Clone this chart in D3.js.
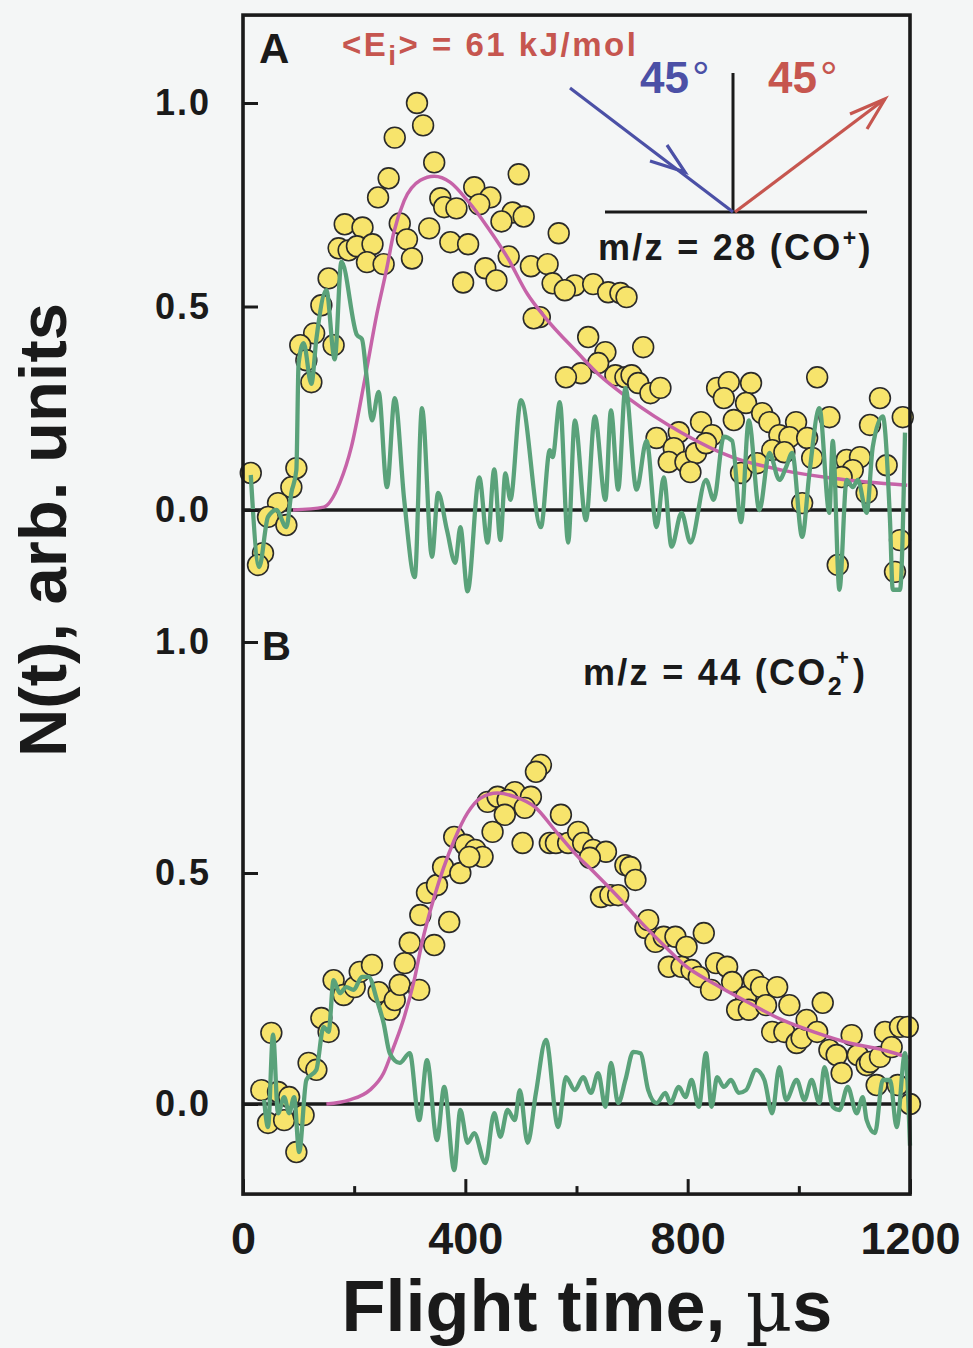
<!DOCTYPE html>
<html>
<head>
<meta charset="utf-8">
<script src="https://cdn.jsdelivr.net/npm/d3@7"></script>
<style>
  html, body { margin: 0; padding: 0; background: #f4f6f6; }
  svg { display: block; }
  text { font-family: "Liberation Sans", Arial, sans-serif; font-weight: bold; }
</style>
</head>
<body>
<svg id="chart" width="973" height="1348"></svg>
<script>
// ---------------- DATA ----------------
const xMajorTicks = [0, 400, 800, 1200];
const xMinorTicks = [200, 600, 1000];
const yTicks = [0, 0.5, 1.0];

// Panel A  (m/z = 28, CO+)
const dotsA_t = [313,324,273,344,262,496,243,416,445,355,362,384,425,183,215,282,335,485,505,465,568,172,190,205,233,295,373,405,223,253,304,478,436,456,396,154,518,548,557,597,630,657,679,579,141,128,103,114,123,163,14,96,87,63,45,78,36,27,534,523,621,652,639,608,581,670,688,690,720,699,711,733,751,744,784,824,844,775,766,796,815,805,833,853,874,914,865,905,883,934,947,995,1055,1033,965,983,1015,952,974,1024,896,925,1006,1086,1110,1097,1077,1122,1158,1146,1128,1187,1070,1182,1173];
const dotsA_v = [1.0,0.945,0.915,0.854,0.815,0.825,0.768,0.793,0.768,0.766,0.744,0.741,0.751,0.702,0.694,0.704,0.692,0.731,0.721,0.709,0.68,0.643,0.638,0.648,0.653,0.665,0.658,0.653,0.609,0.604,0.618,0.623,0.594,0.564,0.559,0.569,0.599,0.604,0.557,0.552,0.555,0.535,0.533,0.54,0.503,0.434,0.405,0.368,0.314,0.405,0.091,0.103,0.056,0.017,-0.017,-0.037,-0.106,-0.135,0.474,0.471,0.425,0.388,0.361,0.336,0.326,0.331,0.326,0.523,0.40,0.331,0.312,0.287,0.30,0.177,0.191,0.216,0.184,0.152,0.118,0.118,0.14,0.093,0.164,0.30,0.314,0.312,0.275,0.263,0.221,0.238,0.216,0.216,0.228,0.326,0.184,0.179,0.177,0.147,0.142,0.128,0.091,0.115,0.017,0.123,0.13,0.098,0.081,0.042,0.11,0.275,0.209,0.228,-0.135,-0.074,-0.152];

const greenA_t = [14,29,45,60,78,87,96,100,109,123,132,150,165,177,205,214,223,232,244,259,273,290,309,322,340,351,367,382,391,404,425,440,452,463,472,481,500,536,552,557,570,585,597,617,633,652,662,675,688,708,726,744,757,771,789,805,833,847,865,880,896,910,929,947,965,977,988,1006,1019,1037,1055,1061,1073,1086,1097,1106,1122,1133,1151,1164,1169,1182,1191];
const greenA_v = [0.086,-0.14,-0.017,0.0,-0.042,0.042,0.098,0.36,0.41,0.31,0.42,0.54,0.37,0.61,0.43,0.42,0.32,0.22,0.29,0.056,0.275,0.025,-0.165,0.25,-0.115,0.042,-0.05,-0.13,-0.042,-0.20,0.08,-0.08,0.10,-0.074,0.09,0.025,0.27,-0.042,0.147,0.13,0.265,-0.08,0.22,-0.025,0.23,0.025,0.245,0.05,0.30,0.05,0.17,-0.042,0.08,-0.09,-0.007,-0.08,0.074,0.025,0.18,0.17,-0.03,0.22,0.0,0.14,0.074,0.105,0.14,-0.066,0.09,0.25,-0.007,0.17,-0.196,0.074,0.056,0.074,-0.007,0.155,0.23,-0.025,-0.196,-0.196,0.19];

const fitA_t = [90,145,174,195,219,241,259,271,290,319,344,373,404,440,476,512,543,603,639,693,789,880,970,1061,1195];
const fitA_v = [0,0.007,0.066,0.155,0.32,0.483,0.596,0.68,0.76,0.81,0.82,0.805,0.76,0.695,0.62,0.53,0.474,0.385,0.334,0.275,0.19,0.13,0.098,0.078,0.061];

// Panel B  (m/z = 44, CO2+)
const dotsB_t = [51,33,63,83,45,74,109,96,118,132,141,154,163,181,201,210,232,244,264,273,282,317,291,300,344,319,371,331,349,360,391,380,400,418,431,407,449,440,458,489,518,476,507,471,536,527,572,503,552,563,585,603,612,630,653,624,688,697,706,644,661,675,724,729,742,757,778,798,829,766,789,807,820,842,851,871,880,905,919,932,961,889,910,941,983,1043,952,974,996,1005,1014,1033,1055,1068,1095,1106,1122,1128,1146,1155,1167,1182,1196,1077,1140,1178,1200];
const dotsB_v = [0.154,0.03,0.026,0.015,-0.041,-0.035,-0.024,-0.104,0.089,0.074,0.186,0.156,0.268,0.236,0.253,0.286,0.301,0.242,0.204,0.225,0.258,0.247,0.305,0.349,0.344,0.409,0.394,0.457,0.474,0.513,0.50,0.578,0.561,0.55,0.535,0.535,0.589,0.654,0.665,0.675,0.665,0.658,0.641,0.626,0.734,0.719,0.626,0.565,0.565,0.565,0.565,0.589,0.565,0.55,0.546,0.533,0.517,0.513,0.485,0.448,0.452,0.452,0.381,0.398,0.351,0.362,0.362,0.34,0.37,0.297,0.297,0.29,0.275,0.247,0.305,0.297,0.264,0.232,0.268,0.253,0.253,0.204,0.204,0.214,0.214,0.219,0.156,0.156,0.132,0.143,0.182,0.156,0.117,0.106,0.149,0.106,0.084,0.091,0.102,0.156,0.123,0.167,0.167,0.067,0.041,0.041,0.0];

const greenB_t = [38,45,54,63,74,83,92,101,114,132,145,154,163,174,186,199,214,226,241,253,264,282,300,317,331,349,362,380,391,404,416,436,452,463,476,489,498,512,527,545,567,581,597,612,626,639,652,662,675,688,702,715,729,744,760,769,784,796,807,820,833,843,853,865,878,892,905,923,938,952,965,977,996,1010,1023,1037,1046,1061,1073,1088,1104,1115,1122,1137,1151,1164,1176,1191,1200];
const greenB_v = [0.009,-0.05,0.15,-0.02,0.015,-0.02,0.015,-0.104,0.052,0.074,0.167,0.156,0.268,0.24,0.253,0.247,0.275,0.275,0.225,0.175,0.11,0.089,0.11,-0.035,0.095,-0.078,0.037,-0.143,-0.013,-0.084,-0.063,-0.128,-0.02,-0.071,-0.013,-0.035,0.03,-0.084,0.024,0.139,-0.05,0.058,0.03,0.058,0.024,0.067,-0.006,0.089,0.002,0.052,0.113,0.11,0.03,0.002,0.024,0.002,0.037,0.015,0.052,-0.006,0.11,-0.006,0.058,0.037,0.052,0.024,0.03,0.074,0.052,-0.02,0.08,0.009,0.052,0.009,0.052,0.002,0.08,-0.006,-0.013,0.037,-0.02,0.015,-0.035,-0.063,0.052,0.052,-0.05,0.11,-0.09];

const fitB_t = [150,192,228,253,271,290,308,322,344,380,404,427,458,489,525,561,603,633,675,717,766,790,851,910,970,1032,1091,1151,1200];
const fitB_v = [0,0.009,0.03,0.067,0.123,0.188,0.268,0.349,0.448,0.571,0.63,0.662,0.673,0.665,0.643,0.593,0.535,0.50,0.448,0.392,0.333,0.305,0.258,0.219,0.182,0.154,0.132,0.117,0.10];

// ---------------- STYLE ----------------
const C = {
  dotFill: "#f7e46c", dotStroke: "#2a2a2a",
  green: "#5aa27a", fit: "#c663a8",
  blue: "#4b50a6", red: "#c6564f", ink: "#1a1a1a"
};

// ---------------- SCALES ----------------
const svg = d3.select("#chart");
svg.append("rect").attr("width", 973).attr("height", 1348).attr("fill", "#f4f6f6");

const x = d3.scaleLinear().domain([0, 1200]).range([243, 910]);
const yA = d3.scaleLinear().domain([0, 1]).range([510, 103]);
const yB = d3.scaleLinear().domain([0, 1]).range([1104, 642]);

const frameTop = yA(1.216), frameBottom = yB(-0.195);

const zip = (t, v) => t.map((d, i) => [d, v[i]]);

function panel(y, dots, green, fit) {
  const g = svg.append("g");
  // zero line
  g.append("line")
    .attr("x1", x(0)).attr("x2", x(1200))
    .attr("y1", y(0)).attr("y2", y(0))
    .attr("stroke", C.ink).attr("stroke-width", 3.4);
  // dots
  g.selectAll("circle").data(dots).join("circle")
    .attr("cx", d => x(d[0])).attr("cy", d => y(d[1])).attr("r", 10.4)
    .attr("fill", C.dotFill).attr("stroke", C.dotStroke).attr("stroke-width", 1.6);
  // fit curve
  g.append("path").datum(fit)
    .attr("d", d3.line().x(d => x(d[0])).y(d => y(d[1])).curve(d3.curveMonotoneX))
    .attr("fill", "none").attr("stroke", C.fit).attr("stroke-width", 3.5);
  // green signal
  g.append("path").datum(green)
    .attr("d", d3.line().x(d => x(d[0])).y(d => y(d[1])).curve(d3.curveMonotoneX))
    .attr("fill", "none").attr("stroke", C.green).attr("stroke-width", 4.3)
    .attr("stroke-linejoin", "round");
  // y axis
  const ax = g.append("g").attr("transform", `translate(${x(0)},0)`)
    .call(d3.axisLeft(y).tickValues(yTicks).tickSize(-15).tickPadding(32)
      .tickFormat(d3.format(".1f")));
  ax.select(".domain").remove();
  ax.selectAll(".tick line").attr("stroke", C.ink).attr("stroke-width", 3);
  ax.selectAll(".tick text").attr("fill", C.ink).attr("font-size", 36)
    .attr("font-family", "Liberation Sans, Arial, sans-serif").attr("font-weight", "bold")
    .attr("letter-spacing", 2);
  return g;
}

panel(yA, zip(dotsA_t, dotsA_v), zip(greenA_t, greenA_v), zip(fitA_t, fitA_v));
panel(yB, zip(dotsB_t, dotsB_v), zip(greenB_t, greenB_v), zip(fitB_t, fitB_v));

// bottom axis
const bx = svg.append("g").attr("transform", `translate(0,${frameBottom})`)
  .call(d3.axisBottom(x).tickValues(xMajorTicks).tickSize(-15).tickPadding(28)
    .tickFormat(d3.format("d")));
bx.select(".domain").remove();
bx.selectAll(".tick line").attr("stroke", C.ink).attr("stroke-width", 3);
bx.selectAll(".tick text").attr("fill", C.ink).attr("font-size", 45)
  .attr("font-family", "Liberation Sans, Arial, sans-serif").attr("font-weight", "bold");
const bm = svg.append("g").attr("transform", `translate(0,${frameBottom})`)
  .call(d3.axisBottom(x).tickValues(xMinorTicks).tickSize(-8).tickFormat(""));
bm.select(".domain").remove();
bm.selectAll(".tick line").attr("stroke", C.ink).attr("stroke-width", 3);

// frame
svg.append("rect")
  .attr("x", x(0)).attr("y", frameTop)
  .attr("width", x(1200) - x(0)).attr("height", frameBottom - frameTop)
  .attr("fill", "none").attr("stroke", C.ink).attr("stroke-width", 3.6);

// axis titles
svg.append("text")
  .attr("transform", "translate(66,530) rotate(-90)")
  .attr("text-anchor", "middle").attr("font-size", 67).attr("fill", C.ink)
  .text("N(t), arb. units");

const xt = svg.append("text")
  .attr("x", 587).attr("y", 1331).attr("text-anchor", "middle")
  .attr("font-size", 72).attr("fill", C.ink);
xt.append("tspan").text("Flight time, ");
xt.append("tspan").attr("font-family", "DejaVu Serif, Liberation Serif, serif")
  .attr("font-weight", "normal").text("µ");
xt.append("tspan").text("s");

// panel labels
svg.append("text").attr("x", 259).attr("y", 63).attr("font-size", 42).attr("fill", C.ink).text("A");
svg.append("text").attr("x", 262).attr("y", 660).attr("font-size", 40).attr("fill", C.ink).text("B");

// incident energy
const ei = svg.append("text").attr("x", 342).attr("y", 56).attr("font-size", 33)
  .attr("letter-spacing", 2.5).attr("fill", C.red);
ei.append("tspan").text("<E");
ei.append("tspan").attr("dy", 9).attr("font-size", 28).text("i");
ei.append("tspan").attr("dy", -9).text("> = 61 kJ/mol");

// scattering geometry diagram
const dg = svg.append("g");
dg.append("line").attr("x1", 733).attr("y1", 73).attr("x2", 733).attr("y2", 212)
  .attr("stroke", C.ink).attr("stroke-width", 3);
dg.append("line").attr("x1", 605).attr("y1", 212).attr("x2", 867).attr("y2", 212)
  .attr("stroke", C.ink).attr("stroke-width", 3);
dg.append("line").attr("x1", 570).attr("y1", 88).attr("x2", 733).attr("y2", 212)
  .attr("stroke", C.blue).attr("stroke-width", 3.2);
dg.append("polyline").attr("points", "650,161 685,172 667,145")
  .attr("fill", "none").attr("stroke", C.blue).attr("stroke-width", 3.2);
dg.append("line").attr("x1", 735).attr("y1", 212).attr("x2", 885).attr("y2", 99)
  .attr("stroke", C.red).attr("stroke-width", 3.2);
dg.append("polyline").attr("points", "850,114 885,99 867,129")
  .attr("fill", "none").attr("stroke", C.red).attr("stroke-width", 3.2);

const b45 = svg.append("text").attr("x", 640).attr("y", 93).attr("font-size", 44).attr("fill", C.blue);
b45.append("tspan").text("45");
b45.append("tspan").attr("font-weight", "normal").attr("dx", 3).text("°");
const r45 = svg.append("text").attr("x", 768).attr("y", 93).attr("font-size", 44).attr("fill", C.red);
r45.append("tspan").text("45");
r45.append("tspan").attr("font-weight", "normal").attr("dx", 3).text("°");

// species labels
const mA = svg.append("text").attr("x", 598).attr("y", 260).attr("font-size", 36)
  .attr("letter-spacing", 2.3).attr("fill", C.ink);
mA.append("tspan").text("m/z = 28 (CO");
mA.append("tspan").attr("dy", -14).attr("font-size", 23).text("+");
mA.append("tspan").attr("dy", 14).text(")");

const mB = svg.append("text").attr("x", 583).attr("y", 685).attr("font-size", 36)
  .attr("letter-spacing", 2.3).attr("fill", C.ink);
mB.append("tspan").text("m/z = 44 (CO");
mB.append("tspan").attr("dy", 10).attr("font-size", 25).text("2");
mB.append("tspan").attr("dx", -8).attr("dy", -30).attr("font-size", 22).text("+");
mB.append("tspan").attr("dx", 2).attr("dy", 20).text(")");
</script>
</body>
</html>
